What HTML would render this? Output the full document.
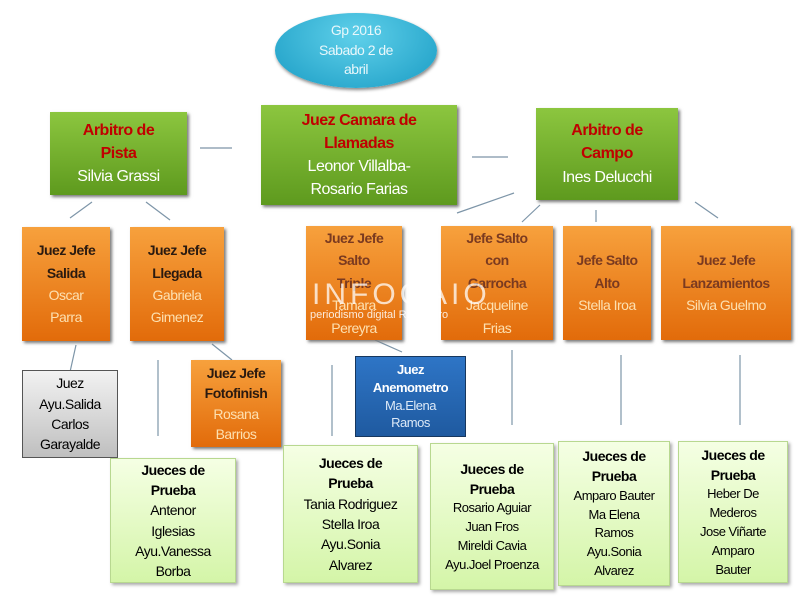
<!DOCTYPE html>
<html><head><meta charset="utf-8"><style>
body{margin:0;width:800px;height:600px;background:#fff;position:relative;overflow:hidden;font-family:"Liberation Sans",sans-serif}
.b{position:absolute;display:flex;flex-direction:column;justify-content:center;align-items:center;text-align:center;box-sizing:border-box;line-height:1.45;letter-spacing:-0.5px}
.g{background:linear-gradient(#8cc63f,#5e9a1e);box-shadow:2px 2px 3px #777;color:#fff;font-size:16px}
.g b{color:#c00000}
.o{background:linear-gradient(#f7a13d,#e26b0a);box-shadow:2px 2px 3px #777;color:#fde0b0;font-size:14px;line-height:1.6}
.o b{color:#2a1a10}
.o.br b{color:#7a3a20}
.l{background:linear-gradient(#f5ffe4,#d4f5a8);border:1px solid #b8d890;box-shadow:2px 2px 3px #aaa;color:#000;font-size:14px}
.gr{background:linear-gradient(#f2f2f2,#bfbfbf);border:1px solid #555;color:#000;font-size:14px}
.bl{background:linear-gradient(#2e75c6,#1f5aa0);border:1px solid #17375e;color:#dce9f7;font-size:13px}
.bl b{color:#fff}
</style></head><body>
<svg width="800" height="600" style="position:absolute;left:0;top:0" stroke="#7d95a8" stroke-width="1.2">
<line x1="200" y1="148" x2="232" y2="148"/><line x1="472" y1="157" x2="508" y2="157"/>
<line x1="457" y1="213" x2="514" y2="193"/><line x1="70" y1="218" x2="92" y2="202"/>
<line x1="146" y1="202" x2="170" y2="220"/><line x1="522" y1="222" x2="540" y2="205"/>
<line x1="596" y1="210" x2="596" y2="222"/><line x1="695" y1="202" x2="718" y2="218"/>
<line x1="76" y1="345" x2="70" y2="372"/><line x1="212" y1="344" x2="232" y2="360"/>
<line x1="375" y1="340" x2="402" y2="352"/><line x1="158" y1="360" x2="158" y2="436"/>
<line x1="332" y1="365" x2="332" y2="436"/><line x1="512" y1="350" x2="512" y2="425"/>
<line x1="621" y1="355" x2="621" y2="425"/><line x1="740" y1="355" x2="740" y2="425"/>
</svg>
<div class="b" style="left:275px;top:13px;width:162px;height:75px;border-radius:50%;background:radial-gradient(ellipse at 50% 30%,#5fd0ea,#1a9cc4);box-shadow:1px 2px 3px #888;color:#e8f7fb;font-size:14px;line-height:1.4">Gp 2016<br>Sabado 2 de<br>abril</div>
<div class="b g" style="left:50px;top:112px;width:137px;height:83px"><b>Arbitro de<br>Pista</b>Silvia Grassi</div>
<div class="b g" style="left:261px;top:105px;width:196px;height:100px"><b>Juez Camara de<br>Llamadas</b>Leonor Villalba-<br>Rosario Farias</div>
<div class="b g" style="left:536px;top:108px;width:142px;height:92px"><b>Arbitro de<br>Campo</b>Ines Delucchi</div>
<div class="b o" style="left:22px;top:227px;width:88px;height:114px"><b>Juez Jefe<br>Salida</b>Oscar<br>Parra</div>
<div class="b o" style="left:130px;top:227px;width:94px;height:114px"><b>Juez Jefe<br>Llegada</b>Gabriela<br>Gimenez</div>
<div class="b o br" style="left:306px;top:226px;width:96px;height:114px"><b>Juez Jefe<br>Salto<br>Triple</b>Tamara<br>Pereyra</div>
<div class="b o br" style="left:441px;top:226px;width:112px;height:114px"><b>Jefe Salto<br>con<br>Garrocha</b>Jacqueline<br>Frias</div>
<div class="b o br" style="left:563px;top:226px;width:88px;height:114px"><b>Jefe Salto<br>Alto</b>Stella Iroa</div>
<div class="b o br" style="left:661px;top:226px;width:130px;height:114px"><b>Juez Jefe<br>Lanzamientos</b>Silvia Guelmo</div>
<div class="b gr" style="left:22px;top:370px;width:96px;height:88px">Juez<br>Ayu.Salida<br>Carlos<br>Garayalde</div>
<div class="b o" style="left:191px;top:360px;width:90px;height:87px;line-height:1.45"><b>Juez Jefe<br>Fotofinish</b>Rosana<br>Barrios</div>
<div class="b bl" style="left:355px;top:356px;width:111px;height:81px;line-height:1.35"><b>Juez<br>Anemometro</b>Ma.Elena<br>Ramos</div>
<div class="b l" style="left:110px;top:458px;width:126px;height:125px"><b>Jueces de<br>Prueba</b>Antenor<br>Iglesias<br>Ayu.Vanessa<br>Borba</div>
<div class="b l" style="left:283px;top:445px;width:135px;height:138px"><b>Jueces de<br>Prueba</b>Tania Rodriguez<br>Stella Iroa<br>Ayu.Sonia<br>Alvarez</div>
<div class="b l" style="left:430px;top:443px;width:124px;height:147px;font-size:13px"><b style="font-size:14px">Jueces de<br>Prueba</b>Rosario Aguiar<br>Juan Fros<br>Mireldi Cavia<br>Ayu.Joel Proenza</div>
<div class="b l" style="left:558px;top:441px;width:112px;height:145px;font-size:13px"><b style="font-size:14px">Jueces de<br>Prueba</b>Amparo Bauter<br>Ma Elena<br>Ramos<br>Ayu.Sonia<br>Alvarez</div>
<div class="b l" style="left:678px;top:441px;width:110px;height:142px;font-size:13px"><b style="font-size:14px">Jueces de<br>Prueba</b>Heber De<br>Mederos<br>Jose Viñarte<br>Amparo<br>Bauter</div>
<div style="position:absolute;left:312px;top:278px;font-size:30px;color:rgba(255,255,255,0.75);letter-spacing:4px">INFOGAIO</div>
<div style="position:absolute;left:310px;top:309px;font-size:11px;color:rgba(255,255,255,0.85)">periodismo digital Rio Negro</div>
</body></html>
